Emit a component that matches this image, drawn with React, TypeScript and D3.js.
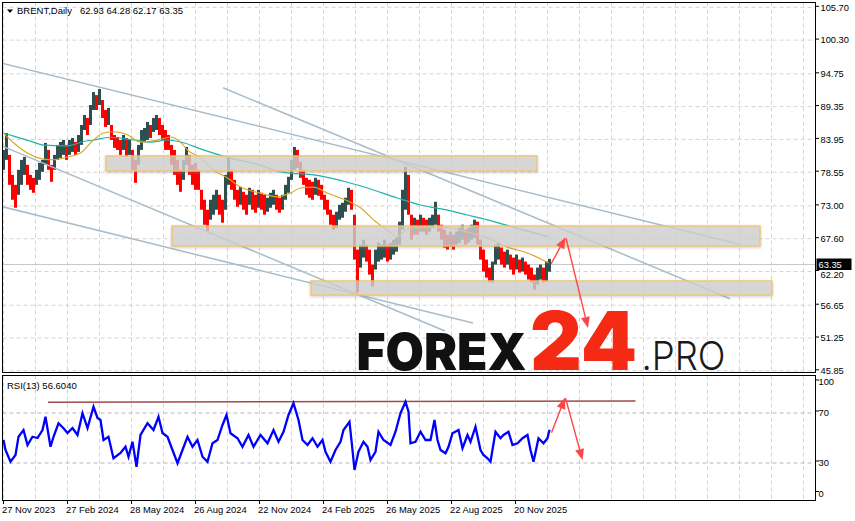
import React from "react";
import * as d3 from "d3";

const W = 855;
const H = 521;

// ---------- data ----------
const symbolTitle = "BRENT,Daily";
const ohlcText = "62.93 64.28 62.17 63.35";
const rsiTitle = "RSI(13) 56.6040";
const lastPrice = 63.35;

const priceTicks = [105.7, 100.3, 94.75, 89.35, 83.95, 78.55, 73.0, 67.6, 62.2, 56.65, 51.25, 45.85];
const rsiTicks = [100, 70, 30, 0];
const rsiLevels = [70, 30];
const dateLabels = ["27 Nov 2023", "27 Feb 2024", "28 May 2024", "26 Aug 2024", "22 Nov 2024", "24 Feb 2025", "26 May 2025", "22 Aug 2025", "20 Nov 2025"];
const dateBars = [0, 64, 128, 192, 256, 320, 384, 448, 512];

// price bars, grouped 3 trading days per entry
const barsPerGroup = 3;
const highs = [
  82.22, 85.01, 81.4, 78.11, 76.47, 78.94, 80.58, 81.07, 79.76, 78.11,
  77.62, 78.94, 80.09, 80.58, 83.37, 82.22, 79.76, 81.4, 83.04, 83.53,
  83.86, 83.04, 83.86, 84.19, 83.53, 84.68, 86.32, 87.97, 87.47, 89.61,
  91.74, 91.25, 92.24, 90.43, 88.79, 89.12, 86.32, 84.68, 84.35, 83.86,
  84.68, 84.19, 83.86, 82.22, 80.58, 83.04, 85.5, 85.83, 86.82, 86.32,
  87.47, 87.97, 87.47, 86.32, 85.5, 84.68, 83.04, 82.22, 80.58, 78.94,
  80.58, 82.71, 81.4, 79.76, 80.09, 78.94, 75.65, 74.01, 72.37, 74.01,
  74.83, 75.65, 74.83, 74.01, 78.11, 81.07, 78.94, 77.29, 75.65, 76.14,
  75.32, 74.83, 75.98, 75.65, 74.83, 75.65, 75.16, 74.83, 74.34, 75.16,
  75.65, 74.83, 74.34, 74.83, 76.47, 77.79, 80.58, 82.71, 82.22, 80.25,
  78.94, 77.62, 77.29, 76.97, 77.62, 77.29, 76.47, 74.83, 74.01, 72.37,
  71.55, 72.04, 73.19, 73.52, 74.34, 75.98, 75.65, 71.55, 65.8, 66.62,
  67.44, 66.62, 65.8, 63.34, 65.8, 66.95, 66.62, 67.44, 66.62, 66.95,
  67.44, 67.77, 70.4, 75.65, 79.43, 78.11, 71.55, 71.05, 70.73, 71.55,
  71.05, 70.73, 71.05, 71.55, 73.68, 71.55, 69.9, 69.08, 68.26, 68.76,
  68.26, 68.76, 69.41, 69.9, 69.08, 69.41, 69.9, 70.73, 70.4, 67.44,
  65.8, 64.16, 62.84, 63.83, 66.62, 66.95, 66.13, 65.47, 65.8, 64.98,
  64.49, 64.98, 64.16, 64.49, 63.83, 63.34, 62.84, 61.69, 62.84, 63.34,
  62.84, 63.83, 64.28,
];
const lows = [
  78.94, 80.58, 76.47, 74.01, 72.7, 74.83, 76.47, 78.11, 76.47, 75.65,
  75.16, 76.47, 77.29, 78.61, 79.76, 78.94, 76.97, 78.94, 80.58, 80.91,
  81.4, 80.58, 81.4, 81.89, 81.4, 81.89, 83.04, 85.5, 84.68, 86.32,
  88.79, 88.79, 89.61, 87.47, 86.0, 86.32, 83.86, 82.55, 82.22, 81.4,
  82.22, 81.07, 81.4, 78.94, 76.8, 79.76, 82.22, 83.53, 83.86, 84.19,
  85.18, 85.5, 84.68, 83.86, 82.22, 82.22, 79.76, 78.11, 76.47, 75.32,
  77.29, 79.76, 78.11, 76.47, 75.65, 75.65, 72.37, 69.9, 68.76, 70.73,
  71.55, 72.37, 71.55, 70.23, 72.37, 76.47, 75.65, 74.01, 72.86, 73.19,
  72.37, 71.55, 73.19, 72.37, 71.88, 72.7, 72.37, 71.55, 72.04, 72.7,
  73.19, 72.37, 71.88, 72.37, 74.01, 75.16, 77.29, 78.94, 79.26, 77.62,
  76.47, 74.83, 74.34, 74.01, 74.83, 74.67, 74.01, 72.37, 71.55, 69.9,
  69.08, 69.41, 70.73, 71.05, 72.04, 73.19, 72.37, 64.16, 58.74, 62.84,
  64.49, 63.83, 61.69, 59.72, 62.52, 63.83, 64.16, 64.49, 63.83, 64.16,
  64.98, 65.47, 66.62, 69.08, 72.37, 71.55, 67.44, 68.26, 68.26, 68.76,
  68.76, 68.26, 68.76, 69.41, 69.9, 68.76, 67.44, 66.13, 65.8, 66.29,
  65.8, 66.62, 66.95, 67.44, 66.62, 66.95, 67.44, 67.77, 66.62, 64.16,
  62.19, 61.2, 60.38, 60.38, 63.34, 64.16, 63.34, 62.84, 63.34, 62.52,
  61.69, 62.52, 62.02, 62.19, 61.69, 60.87, 60.38, 59.23, 60.05, 60.87,
  60.38, 60.55, 62.17,
];

// moving averages: [bar index, price]
const maSlow: [number, number][] = [
  [0, 85.0], [30, 83.5], [40, 83.0], [64, 82.9], [80, 83.6], [90, 83.85], [107, 84.3], [130, 83.85],
  [147, 83.5], [164, 83.85], [180, 83.4], [197, 82.4], [224, 81.0], [257, 79.7], [277, 78.6], [287, 78.4],
  [310, 78.1], [344, 76.9], [364, 75.95], [394, 74.3], [417, 73.15], [444, 72.3], [464, 71.5], [484, 70.7],
  [510, 69.5], [545, 67.9],
];
const maFast: [number, number][] = [
  [0, 85.0], [10, 83.4], [24, 81.7], [40, 80.7], [50, 80.6], [64, 81.05], [77, 81.7], [90, 83.85],
  [100, 85.0], [110, 85.2], [124, 84.7], [137, 83.5], [154, 83.85], [167, 84.34], [177, 83.5], [184, 82.2],
  [197, 80.9], [210, 78.9], [224, 77.6], [237, 76.1], [257, 75.1], [274, 74.5], [287, 75.1], [297, 75.95],
  [310, 76.1], [324, 75.1], [337, 74.3], [347, 73.6], [357, 72.7], [370, 70.7], [384, 69.0], [394, 67.9],
  [400, 68.7], [407, 69.4], [427, 69.5], [444, 69.4], [464, 68.7], [484, 67.7], [504, 66.2], [524, 65.25],
  [545, 63.6],
];

// RSI(13): [bar index, value]
const rsiData: [number, number][] = [
  [0, 48.4], [2, 40.4], [7, 31.0], [12, 36.4], [15, 51.0], [20, 56.4], [24, 44.4], [29, 51.0], [34, 50.0],
  [39, 56.4], [42, 67.0], [47, 43.0], [50, 51.0], [55, 61.8], [60, 57.8], [64, 54.0], [69, 58.0], [74, 52.4],
  [79, 69.8], [84, 58.0], [90, 75.0], [94, 66.0], [97, 64.4], [100, 48.4], [105, 51.0], [110, 33.8], [117, 38.0],
  [122, 43.0], [125, 35.0], [129, 47.0], [133, 27.0], [137, 52.4], [144, 61.8], [150, 56.4], [155, 67.0],
  [159, 54.0], [164, 51.0], [169, 40.4], [174, 29.8], [179, 40.4], [184, 51.0], [189, 43.0], [194, 48.4],
  [199, 35.0], [204, 31.0], [209, 45.8], [214, 48.4], [219, 60.4], [223, 68.4], [227, 53.8], [234, 49.8],
  [239, 43.0], [245, 52.4], [250, 43.0], [257, 52.4], [264, 45.8], [270, 56.4], [275, 47.0], [280, 55.0],
  [285, 68.4], [290, 77.8], [295, 64.4], [299, 48.4], [304, 44.4], [309, 49.8], [314, 43.0], [319, 48.4],
  [322, 39.0], [327, 31.0], [332, 40.4], [337, 47.0], [340, 56.4], [346, 63.0], [349, 40.4], [351, 24.4],
  [355, 39.0], [360, 47.0], [364, 43.0], [367, 32.4], [372, 39.0], [375, 55.0], [380, 48.4], [387, 44.4],
  [392, 55.0], [397, 69.8], [402, 79.0], [405, 71.0], [407, 45.8], [412, 47.0], [417, 55.0], [422, 48.4],
  [427, 48.4], [431, 64.4], [434, 48.4], [437, 40.4], [442, 37.8], [445, 43.0], [449, 53.8], [455, 56.4],
  [459, 41.8], [464, 52.4], [467, 47.0], [472, 59.0], [477, 40.4], [480, 36.4], [484, 33.8], [487, 31.0],
  [492, 55.0], [497, 49.8], [500, 52.4], [505, 55.0], [509, 44.4], [514, 45.8], [519, 49.8], [524, 52.4],
  [527, 40.4], [530, 31.0], [535, 49.8], [540, 45.8], [544, 49.8], [546, 56.6],
];

// drawn objects (bar index, price)
const trendLines: [number, number, number, number][] = [
  [-4, 96.6, 738, 66.6],
  [219.5, 92.46, 726.5, 57.72],
  [-4, 83.03, 441.5, 52.4],
  [-4, 72.98, 469.5, 53.72],
];
const zones: [number, number, number, number][] = [
  [102.5, 81.22, 533.5, 78.75],
  [168.5, 69.69, 756.5, 66.4],
  [307.5, 60.64, 768.5, 58.33],
];
const priceArrows: [number, number, number, number][] = [
  [547.5, 63.44, 562, 67.8],
  [562.5, 67.7, 584.5, 52.9],
];
const rsiArrows: [number, number, number, number][] = [
  [548, 54.2, 561.5, 82.2],
  [562, 82.0, 579, 32.4],
];
const rsiResistance: [number, number, number, number] = [44.5, 78.6, 632, 79.6];

// ---------- layout ----------
const main = { left: 2.5, right: 815.5, top: 2.5, bottom: 372.5 };
const sub = { left: 2.5, right: 815.5, top: 375.5, bottom: 500.5 };

const xScale = d3.scaleLinear().domain([0, 512]).range([3.5, 515.5]);
const yScale = d3.scaleLinear().domain([45.85, 105.7]).range([370.8, 7.3]);
const rScale = d3.scaleLinear().domain([0, 100]).range([500.5, 375.5]);

const FONT = "'Liberation Sans', Arial, sans-serif";
const UP = "#2f4f4f";
const DOWN = "#ff0000";
const GRID = "#d4d4d4";

function Arrow({ x1, y1, x2, y2, color }: { x1: number; y1: number; x2: number; y2: number; color: string }) {
  const ang = Math.atan2(y2 - y1, x2 - x1);
  const len = 11;
  const hw = 4.5;
  const bx = x2 - len * Math.cos(ang);
  const by = y2 - len * Math.sin(ang);
  const px = -Math.sin(ang) * hw;
  const py = Math.cos(ang) * hw;
  return (
    <g>
      <line x1={x1} y1={y1} x2={bx} y2={by} stroke={color} strokeWidth={1.4} />
      <polygon points={`${x2},${y2} ${bx + px},${by + py} ${bx - px},${by - py}`} fill={color} />
    </g>
  );
}

export default function App() {
  const gridBars = d3.range(0, 801, 32);
  const lineGen = d3
    .line<[number, number]>()
    .x((d) => xScale(d[0]))
    .y((d) => yScale(d[1]))
    .curve(d3.curveMonotoneX);
  const rsiGen = d3
    .line<[number, number]>()
    .x((d) => xScale(d[0]))
    .y((d) => rScale(d[1]));

  const mids = highs.map((h, i) => (h + lows[i]) / 2);
  const lastY = yScale(lastPrice);

  return (
    <div style={{ position: "absolute", left: 0, top: 0, width: W, height: H, background: "#fff" }}>
      <svg width={W} height={H} style={{ display: "block" }}>
        <defs>
          <clipPath id="mainClip">
            <rect x={main.left} y={main.top} width={main.right - main.left} height={main.bottom - main.top} />
          </clipPath>
          <clipPath id="subClip">
            <rect x={sub.left} y={sub.top} width={sub.right - sub.left} height={sub.bottom - sub.top} />
          </clipPath>
          <filter id="zoneShadow" x="-5%" y="-40%" width="110%" height="180%">
            <feDropShadow dx="0" dy="1" stdDeviation="1.5" floodColor="#888" floodOpacity="0.5" />
          </filter>
        </defs>
        <rect x={0} y={0} width={W} height={H} fill="#fff" />

        {/* ---------- main panel ---------- */}
        <g clipPath="url(#mainClip)">
          {gridBars.map((b) => (
            <line key={"vg" + b} x1={xScale(b)} x2={xScale(b)} y1={main.top} y2={main.bottom} stroke={GRID} strokeDasharray="4,3" />
          ))}
          {priceTicks.map((p) => (
            <line key={"hg" + p} x1={main.left} x2={main.right} y1={yScale(p)} y2={yScale(p)} stroke={GRID} strokeDasharray="4,3" />
          ))}
          <line x1={main.left} x2={main.right} y1={lastY} y2={lastY} stroke="#c8c8c8" strokeWidth={1} />

          {highs.map((h, i) => {
            const up = i === 0 ? true : mids[i] >= mids[i - 1];
            const x = xScale(i * barsPerGroup);
            const y1 = yScale(h);
            const y2 = yScale(lows[i]);
            return <rect key={"b" + i} x={x - 1.5} y={y1} width={3} height={Math.max(1, y2 - y1)} fill={up ? UP : DOWN} />;
          })}

          <path d={lineGen(maSlow) || ""} fill="none" stroke="#20b2aa" strokeWidth={1.2} />
          <path d={lineGen(maFast) || ""} fill="none" stroke="#daa520" strokeWidth={1.1} />

          {trendLines.map((t, i) => (
            <line key={"tl" + i} x1={xScale(t[0])} y1={yScale(t[1])} x2={xScale(t[2])} y2={yScale(t[3])} stroke="#a9bcc8" strokeWidth={1.5} />
          ))}

          {zones.map((z, i) => (
            <rect
              key={"z" + i}
              x={xScale(z[0])}
              y={yScale(z[1])}
              width={xScale(z[2]) - xScale(z[0])}
              height={yScale(z[3]) - yScale(z[1])}
              fill="rgba(214,214,214,0.72)"
              stroke="#f0c46c"
              strokeWidth={1.3}
              filter="url(#zoneShadow)"
            />
          ))}
        </g>

        {/* logo */}
        <g>
          <text x={356.5} y={370} fontFamily="Inter, 'Open Sans', sans-serif" fontWeight={900} fontSize={51} textLength={170} lengthAdjust="spacingAndGlyphs" fill="#111">
            FOREX
          </text>
          <text x={530} y={370} fontFamily="Inter, 'Open Sans', sans-serif" fontWeight={900} fontSize={81} textLength={107} lengthAdjust="spacingAndGlyphs" fill="#f52a14">
            24
          </text>
          <text x={641.5} y={369.5} fontFamily="Inter, 'Open Sans', sans-serif" fontWeight={300} fontSize={40} textLength={84} lengthAdjust="spacingAndGlyphs" fill="#1a1a1a">
            .PRO
          </text>
        </g>

        <g clipPath="url(#mainClip)">
          {priceArrows.map((a, i) => (
            <Arrow key={"pa" + i} x1={xScale(a[0])} y1={yScale(a[1])} x2={xScale(a[2])} y2={yScale(a[3])} color="#ff4545" />
          ))}
        </g>

        {/* header */}
        <polygon points="7,9.5 13,9.5 10,13" fill="#000" />
        <text x={17} y={14} fontFamily={FONT} fontSize={9.5} fill="#000">
          {symbolTitle}
        </text>
        <text x={80} y={14} fontFamily={FONT} fontSize={9.5} fill="#000">
          {ohlcText}
        </text>

        <rect x={main.left} y={main.top} width={main.right - main.left} height={main.bottom - main.top} fill="none" stroke="#000" strokeWidth={1} />

        {/* price axis */}
        {priceTicks.map((p) => {
          const ty = yScale(p);
          // label just below the current-price box is nudged clear of it
          const ly = Math.abs(ty - lastY) < 11 ? lastY + 13 : ty + 3.4;
          return (
            <g key={"pt" + p}>
              <line x1={main.right} x2={main.right + 3.5} y1={ty - 1} y2={ty - 1} stroke="#000" />
              <text x={820.5} y={ly} fontFamily={FONT} fontSize={9.3} fill="#000">
                {p.toFixed(2)}
              </text>
            </g>
          );
        })}
        <rect x={816.5} y={lastY - 6} width={35} height={11.5} fill="#000" />
        <text x={818.5} y={lastY + 3.5} fontFamily={FONT} fontSize={9.3} fill="#fff">
          {lastPrice.toFixed(2)}
        </text>

        {/* ---------- RSI panel ---------- */}
        <g clipPath="url(#subClip)">
          {gridBars.map((b) => (
            <line key={"svg" + b} x1={xScale(b)} x2={xScale(b)} y1={sub.top} y2={sub.bottom} stroke={GRID} strokeDasharray="4,3" />
          ))}
          {rsiLevels.map((v) => (
            <line key={"lv" + v} x1={sub.left} x2={sub.right} y1={rScale(v)} y2={rScale(v)} stroke="#b8b8b8" strokeDasharray="4,3" />
          ))}
          <line
            x1={xScale(rsiResistance[0])}
            y1={rScale(rsiResistance[1])}
            x2={xScale(rsiResistance[2])}
            y2={rScale(rsiResistance[3])}
            stroke="#a04a4a"
            strokeWidth={1.6}
          />
          <path d={rsiGen(rsiData) || ""} fill="none" stroke="#0000ff" strokeWidth={2.3} strokeLinejoin="miter" />
          {rsiArrows.map((a, i) => (
            <Arrow key={"ra" + i} x1={xScale(a[0])} y1={rScale(a[1])} x2={xScale(a[2])} y2={rScale(a[3])} color="#ff4545" />
          ))}
        </g>
        <text x={7} y={388.5} fontFamily={FONT} fontSize={9.5} fill="#000">
          {rsiTitle}
        </text>
        <rect x={sub.left} y={sub.top} width={sub.right - sub.left} height={sub.bottom - sub.top} fill="none" stroke="#000" strokeWidth={1} />

        {rsiTicks.map((v) => {
          const yy = Math.min(Math.max(rScale(v), 382), 493.5);
          return (
            <g key={"rt" + v}>
              <line x1={sub.right} x2={sub.right + 3.5} y1={yy - 2} y2={yy - 2} stroke="#000" />
              <text x={818.5} y={yy + 3.4} fontFamily={FONT} fontSize={9.3} fill="#000">
                {v}
              </text>
            </g>
          );
        })}

        {/* time axis */}
        {dateBars.map((b, i) => (
          <g key={"dt" + b}>
            <line x1={xScale(b)} x2={xScale(b)} y1={sub.bottom} y2={sub.bottom + 3.5} stroke="#000" />
            <text x={xScale(b) - 1.5} y={512.5} fontFamily={FONT} fontSize={9.4} fill="#000">
              {dateLabels[i]}
            </text>
          </g>
        ))}
      </svg>
    </div>
  );
}
